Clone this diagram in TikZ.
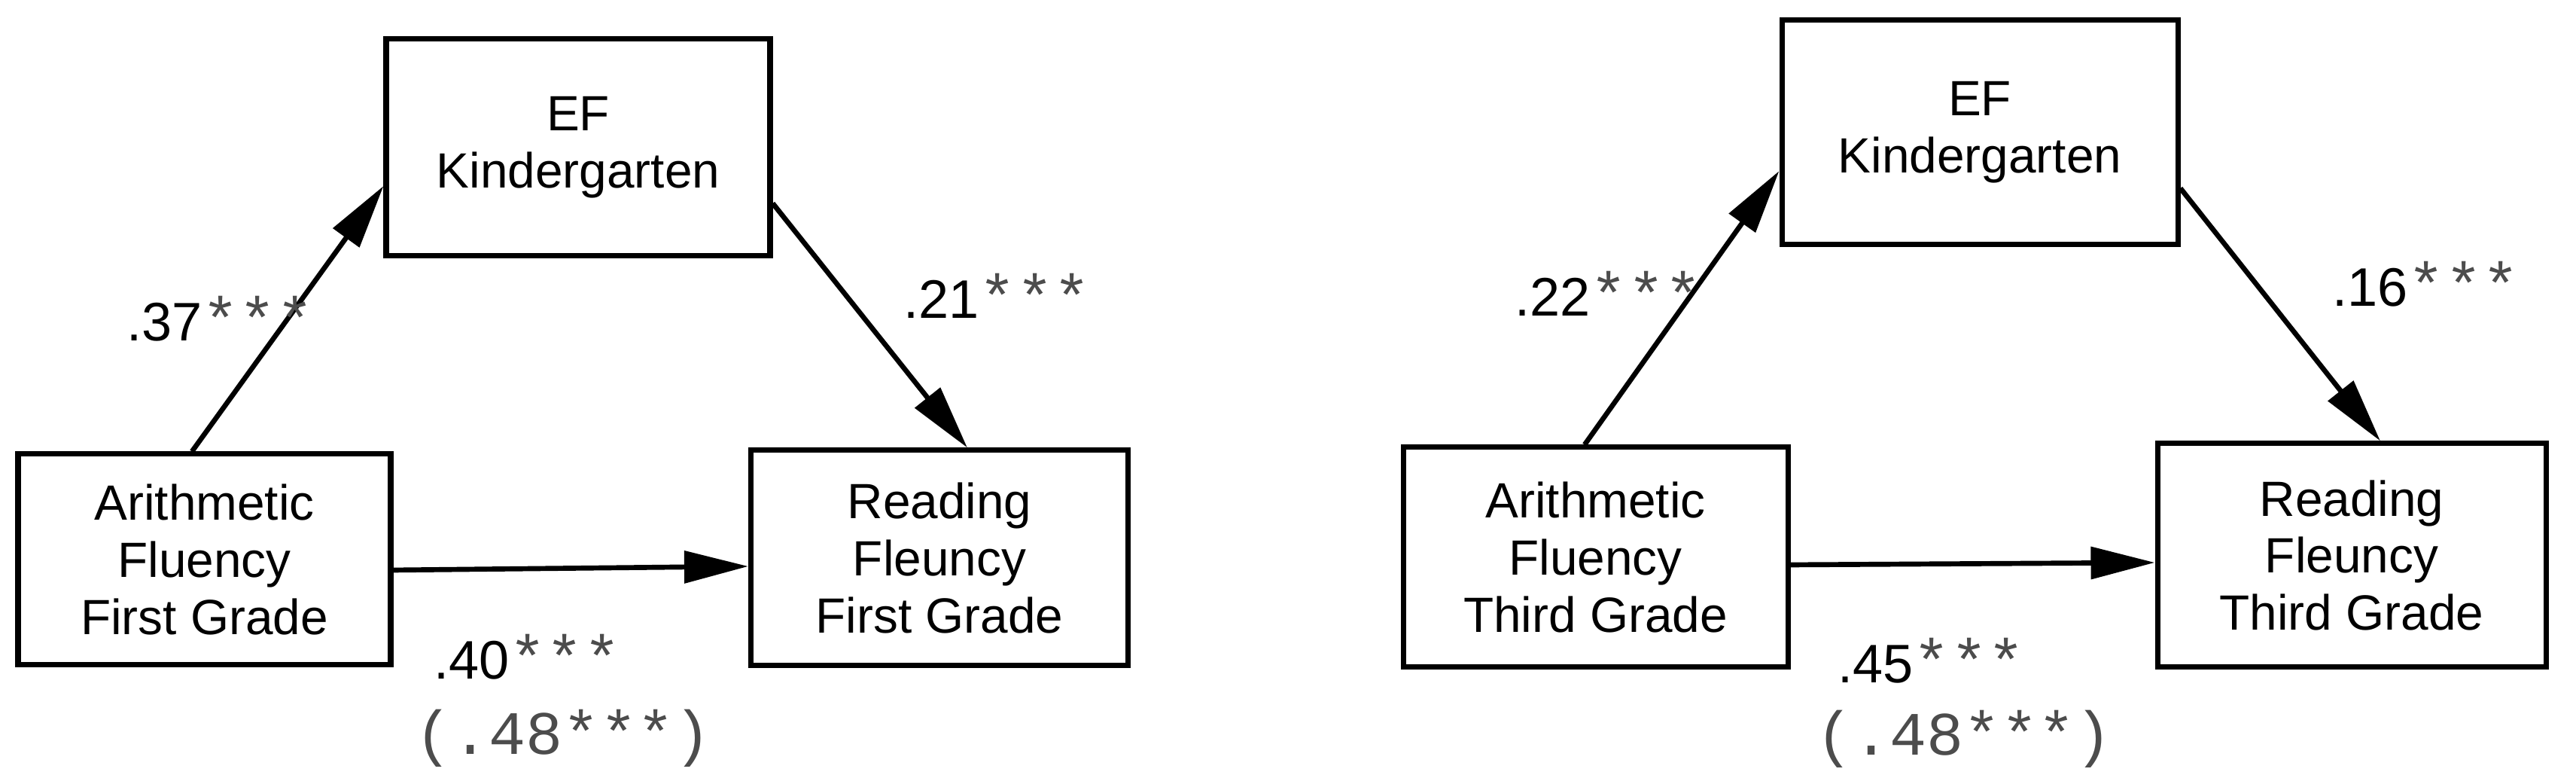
\documentclass[tikz,border=0pt]{standalone}
\usepackage{fontspec}
\setmainfont{Liberation Sans}
\newfontfamily\monofam{Liberation Mono}
\usetikzlibrary{arrows.meta}
\definecolor{stargray}{gray}{0.3}
\newcommand{\sigstars}{{\monofam\fontsize{23.3}{28}\selectfont\color{stargray}***}}

\begin{document}
\begin{tikzpicture}[
    varbox/.style={draw, line width=2pt, align=center, inner sep=0pt,
        font=\fontsize{18.7}{21.6}\selectfont},
    pathline/.style={line width=1.9pt, -{Triangle[length=8.5mm,width=4.2mm]}},
    coef/.style={inner sep=0pt, anchor=base west, font=\fontsize{20.5}{24}\selectfont},
    total/.style={inner sep=0pt, anchor=base, text=stargray,
        font=\monofam\fontsize{23.3}{28}\selectfont}
]
\useasboundingbox (0,0) rectangle (34.22,10.37);

% First grade model
\node[varbox, minimum width=5.10cm, minimum height=2.88cm] (efL) at (7.68,8.41) {EF\\Kindergarten};
\node[varbox, minimum width=4.95cm, minimum height=2.80cm] (arithL) at (2.715,2.94) {Arithmetic\\Fluency\\First Grade};
\node[varbox, minimum width=5.01cm, minimum height=2.86cm] (readL) at (12.48,2.96) {Reading\\Fleuncy\\First Grade};

\draw[pathline] ([xshift=-1.65mm]arithL.north) -- ([yshift=-5.1mm]efL.west);
\draw[pathline] ([yshift=-7.4mm]efL.east) -- ([xshift=3.7mm]readL.north);
\draw[pathline] ([yshift=-1.4mm]arithL.east) -- ([yshift=-1.1mm]readL.west);

\node[coef] (aL) at (1.68,5.84) {.37\sigstars};
\node[coef] (bL) at (12.00,6.14) {.21\sigstars};
\node[coef] (cL) at (5.76,1.35) {.40\sigstars};
\node[total] (tL) at (7.48,0.35) {(.48***)};

% Third grade model
\node[varbox, minimum width=5.26cm, minimum height=2.98cm] (efR) at (26.30,8.61) {EF\\Kindergarten};
\node[varbox, minimum width=5.11cm, minimum height=2.92cm] (arithR) at (21.195,2.97) {Arithmetic\\Fluency\\Third Grade};
\node[varbox, minimum width=5.16cm, minimum height=2.97cm] (readR) at (31.24,2.995) {Reading\\Fleuncy\\Third Grade};

\draw[pathline] ([xshift=-1.45mm]arithR.north) -- ([yshift=-5.1mm]efR.west);
\draw[pathline] ([yshift=-7.4mm]efR.east) -- ([xshift=3.8mm]readR.north);
\draw[pathline] ([yshift=-1mm]arithR.east) -- ([yshift=-0.95mm]readR.west);

\node[coef] (aR) at (20.12,6.17) {.22\sigstars};
\node[coef] (bR) at (30.98,6.30) {.16\sigstars};
\node[coef] (cR) at (24.41,1.30) {.45\sigstars};
\node[total] (tR) at (26.09,0.34) {(.48***)};
\end{tikzpicture}
\end{document}
